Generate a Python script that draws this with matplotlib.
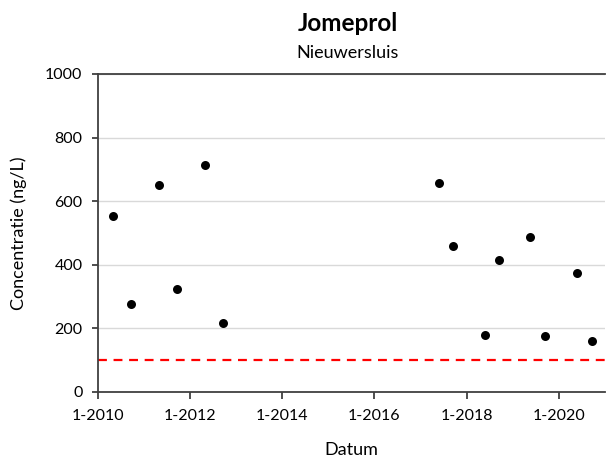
import matplotlib
matplotlib.use("Agg")
import matplotlib.pyplot as plt
import matplotlib.dates as mdates
import pandas as pd

plt.rcParams['font.family'] = ['Lato', 'DejaVu Sans']

dates = ["2010-05-01", "2010-09-22", "2011-05-04", "2011-09-20", "2012-05-01", "2012-09-16",
         "2017-05-26", "2017-09-13", "2018-05-26", "2018-09-13", "2019-05-19", "2019-09-09",
         "2020-05-26", "2020-09-20"]
values = [553, 276, 650, 324, 713, 216,
          656, 460, 180, 414, 488, 176,
          375, 161]
norm_value = 100
tick_years = [2010, 2012, 2014, 2016, 2018, 2020]

x = pd.to_datetime(dates)

fig = plt.figure(figsize=(6.07, 4.61), dpi=100)
ax = fig.add_axes([0.161, 0.1497, 0.836, 0.6898])

ax.scatter(x, values, s=42, color='black', zorder=3, linewidths=0)
ax.axhline(norm_value, color='#ff0000', linestyle=(0, (4, 3)), linewidth=1.6, zorder=2)

ax.set_xlim(pd.Timestamp("2010-01-01"), pd.Timestamp("2021-01-01"))
ax.set_ylim(0, 1000)
ax.set_yticks(range(0, 1001, 200))
ax.set_xticks([pd.Timestamp(f"{y}-01-01") for y in tick_years])
ax.xaxis.set_major_formatter(mdates.DateFormatter("1-%Y"))

ax.grid(axis='y', color='#d9d9d9', linewidth=1)
ax.set_axisbelow(True)
ax.spines['right'].set_visible(False)
for s in ['top', 'left', 'bottom']:
    ax.spines[s].set_color('#404040')
    ax.spines[s].set_linewidth(1.3)

ax.tick_params(axis='y', direction='out', length=4, color='#404040', labelsize=11.5, pad=7, width=1.3)
ax.tick_params(axis='x', direction='out', length=5, color='#404040', labelsize=11.5, pad=7, width=1.3)

ax.set_xlabel("Datum", fontsize=13, labelpad=14)
ax.set_ylabel("Concentratie (ng/L)", fontsize=13, labelpad=13)

fig.text(0.573, 0.950, "Jomeprol", ha='center', va='center', fontsize=17.5, fontweight='bold')
fig.text(0.573, 0.885, "Nieuwersluis", ha='center', va='center', fontsize=13)

fig.savefig("out.png", dpi=100)
